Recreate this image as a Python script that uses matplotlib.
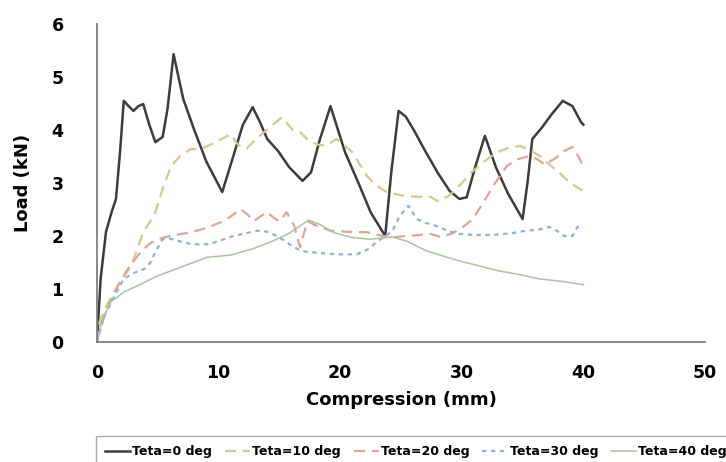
import matplotlib
matplotlib.use("Agg")
import matplotlib.pyplot as plt

plt.rcParams['font.family'] = ['DejaVu Sans']

# Load-compression curves for each cell angle
x_t0 = [0, 0.3, 0.74, 1.2, 1.56, 1.9, 2.2, 2.6, 3.0, 3.4, 3.8, 4.3, 4.8, 5.4, 5.8, 6.3, 6.7,
        7.1, 8.0, 9.0, 10.3, 11.2, 12.0, 12.8, 13.4, 14.0, 14.9, 15.8, 16.9, 17.6, 18.3, 19.2,
        20.4, 21.5, 22.5, 23.7, 24.2, 24.8, 25.4, 26.1, 27.0, 28.0, 29.0, 29.8, 30.4, 31.1,
        31.9, 32.8, 33.8, 35.0, 35.4, 35.8, 36.6, 37.4, 38.3, 39.1, 39.8, 40.0]
y_t0 = [0, 1.2, 2.08, 2.45, 2.7, 3.6, 4.55, 4.45, 4.36, 4.45, 4.49, 4.1, 3.77, 3.87, 4.4, 5.43,
        5.0, 4.58, 4.0, 3.4, 2.83, 3.5, 4.1, 4.43, 4.15, 3.83, 3.6, 3.3, 3.04, 3.2, 3.8, 4.45,
        3.58, 3.0, 2.45, 2.0, 3.2, 4.36, 4.25, 3.98, 3.6, 3.2, 2.85, 2.70, 2.73, 3.3, 3.89,
        3.3, 2.8, 2.32, 3.0, 3.83, 4.05, 4.3, 4.55, 4.45, 4.15, 4.1]

x_t10 = [0, 0.2, 0.8, 1.4, 2.1, 2.8, 3.3, 3.8, 4.3, 4.8, 5.4, 6.1, 6.8, 7.7, 8.5, 9.1, 10.0,
         11.0, 11.6, 12.3, 13.2, 14.2, 15.2, 16.1, 16.7, 17.4, 18.1, 18.8, 19.7, 20.4, 21.0,
         22.2, 23.0, 23.8, 25.2, 26.3, 27.4, 28.0, 28.9, 29.8, 30.8, 31.8, 32.9, 33.8, 34.8,
         35.6, 36.4, 37.2, 38.0, 38.9, 39.7, 40.0]
y_t10 = [0, 0.37, 0.7, 0.94, 1.2, 1.43, 1.75, 2.07, 2.25, 2.45, 2.89, 3.32, 3.5, 3.64, 3.64,
         3.7, 3.8, 3.92, 3.72, 3.65, 3.85, 4.05, 4.24, 4.0, 3.96, 3.8, 3.73, 3.7, 3.83, 3.7,
         3.58, 3.13, 2.95, 2.83, 2.76, 2.74, 2.74, 2.66, 2.75, 2.95, 3.2, 3.4, 3.58, 3.66, 3.7,
         3.62, 3.51, 3.35, 3.2, 3.0, 2.89, 2.85]

x_t20 = [0, 0.3, 1.0, 1.7, 2.6, 3.6, 4.3, 5.0, 6.0, 7.7, 9.0, 10.4, 11.2, 11.8, 12.4, 12.9,
         13.5, 14.0, 14.6, 15.0, 15.6, 16.2, 16.7, 17.3, 18.0, 19.2, 20.5, 22.2, 23.5, 24.5,
         25.5, 26.5, 27.4, 28.3, 29.2, 30.0, 30.9, 31.6, 32.6, 33.7, 34.6, 35.6, 36.2, 36.8,
         37.6, 38.4, 39.1, 39.6, 40.0]
y_t20 = [0, 0.3, 0.7, 1.06, 1.4, 1.7, 1.85, 1.94, 2.0, 2.07, 2.15, 2.28, 2.4, 2.51, 2.4, 2.28,
         2.38, 2.45, 2.33, 2.28, 2.45, 2.2, 1.79, 2.28, 2.2, 2.1, 2.08, 2.07, 2.0, 1.98, 2.0,
         2.02, 2.04, 1.98, 2.05, 2.15, 2.32, 2.57, 2.95, 3.32, 3.45, 3.51, 3.45, 3.35, 3.45,
         3.6, 3.68, 3.5, 3.3]

x_t30 = [0, 0.6, 1.4, 2.2, 3.0, 3.9, 4.4, 4.8, 5.4, 6.0, 6.8, 7.7, 8.5, 9.3, 10.2, 11.2, 12.2,
         13.2, 14.0, 14.8, 15.5, 16.1, 16.8, 17.3, 18.4, 19.4, 20.4, 21.4, 22.3, 23.0, 23.6,
         24.3, 24.9, 25.6, 26.3, 27.0, 27.9, 28.8, 29.8, 31.0, 32.5, 34.0, 35.3, 36.3, 37.2,
         37.8, 38.4, 39.1, 39.5, 40.0]
y_t30 = [0, 0.49, 0.85, 1.19, 1.3, 1.38, 1.5, 1.7, 1.94, 1.95, 1.9, 1.85, 1.84, 1.85, 1.92,
         2.0, 2.05, 2.1, 2.08, 2.0, 1.9, 1.8, 1.72, 1.7, 1.68, 1.66, 1.65, 1.66, 1.75, 1.89,
         1.98, 2.1, 2.38, 2.57, 2.32, 2.25, 2.19, 2.1, 2.04, 2.02, 2.02, 2.05, 2.1, 2.12, 2.17,
         2.1, 2.0, 2.0, 2.17, 2.15]

x_t40 = [0, 0.4, 1.1, 2.2, 3.5, 5.0, 7.1, 9.1, 11.0, 12.7, 14.3, 15.8, 17.4, 18.3, 19.4, 21.0,
         22.5, 24.3, 25.5, 27.1, 28.5, 29.8, 31.5, 33.1, 34.8, 36.4, 38.0, 39.8, 40.0]
y_t40 = [0, 0.4, 0.75, 0.94, 1.08, 1.25, 1.43, 1.6, 1.64, 1.75, 1.89, 2.05, 2.3, 2.22, 2.07,
         1.97, 1.94, 1.98, 1.9, 1.72, 1.62, 1.53, 1.43, 1.34, 1.27, 1.19, 1.15, 1.09, 1.08]

labels = ["Teta=0 deg", "Teta=10 deg", "Teta=20 deg", "Teta=30 deg", "Teta=40 deg"]
x_ticks = [0, 10, 20, 30, 40, 50]
y_ticks = [0, 1, 2, 3, 4, 5, 6]

fig = plt.figure(figsize=(7.26, 4.62), dpi=100)
ax = fig.add_axes([97 / 726, 1 - 342 / 462, (705 - 97) / 726, (342 - 24) / 462])

series = [
    (x_t0, y_t0, dict(color="#3c3c3c", lw=1.8, ls="-")),
    (x_t10, y_t10, dict(color="#d9c690", lw=1.6, ls=(0, (5, 3)))),
    (x_t20, y_t20, dict(color="#e2a592", lw=1.6, ls=(0, (5, 3)))),
    (x_t30, y_t30, dict(color="#8fb2d8", lw=1.6, ls=(0, (2, 2)))),
    (x_t40, y_t40, dict(color="#a9c4a2", lw=1.1, ls="-")),
]
handles = []
for (xs, ys, st), lab in zip(series, labels):
    h, = ax.plot(xs, ys, label=lab, **st)
    handles.append(h)

ax.set_xlim(0, 50)
ax.set_ylim(0, 6)
ax.set_xticks(x_ticks)
ax.set_yticks(y_ticks)
ax.tick_params(length=0, labelsize=12.5)
ax.tick_params(axis="x", pad=16)
ax.tick_params(axis="y", pad=24)
for t in ax.get_xticklabels() + ax.get_yticklabels():
    t.set_fontweight("bold")

for s in ["top", "right"]:
    ax.spines[s].set_visible(False)
for s in ["left", "bottom"]:
    ax.spines[s].set_color("#808080")
    ax.spines[s].set_linewidth(1.3)

ax.set_xlabel("Compression (mm)", fontsize=13, fontweight="bold", labelpad=6)
ax.set_ylabel("Load (kN)", fontsize=13, fontweight="bold", labelpad=14)

leg = fig.legend(handles=handles, labels=labels, loc="upper left",
                 bbox_to_anchor=(90 / 726, 1 - 430 / 462), ncol=5, frameon=True,
                 fancybox=False, edgecolor="#999999",
                 handlelength=2.0, handletextpad=0.2, columnspacing=1.0,
                 borderpad=0.7, prop={"weight": "bold", "size": 9})
leg.get_frame().set_linewidth(1.0)

fig.savefig("out.png", dpi=100)
